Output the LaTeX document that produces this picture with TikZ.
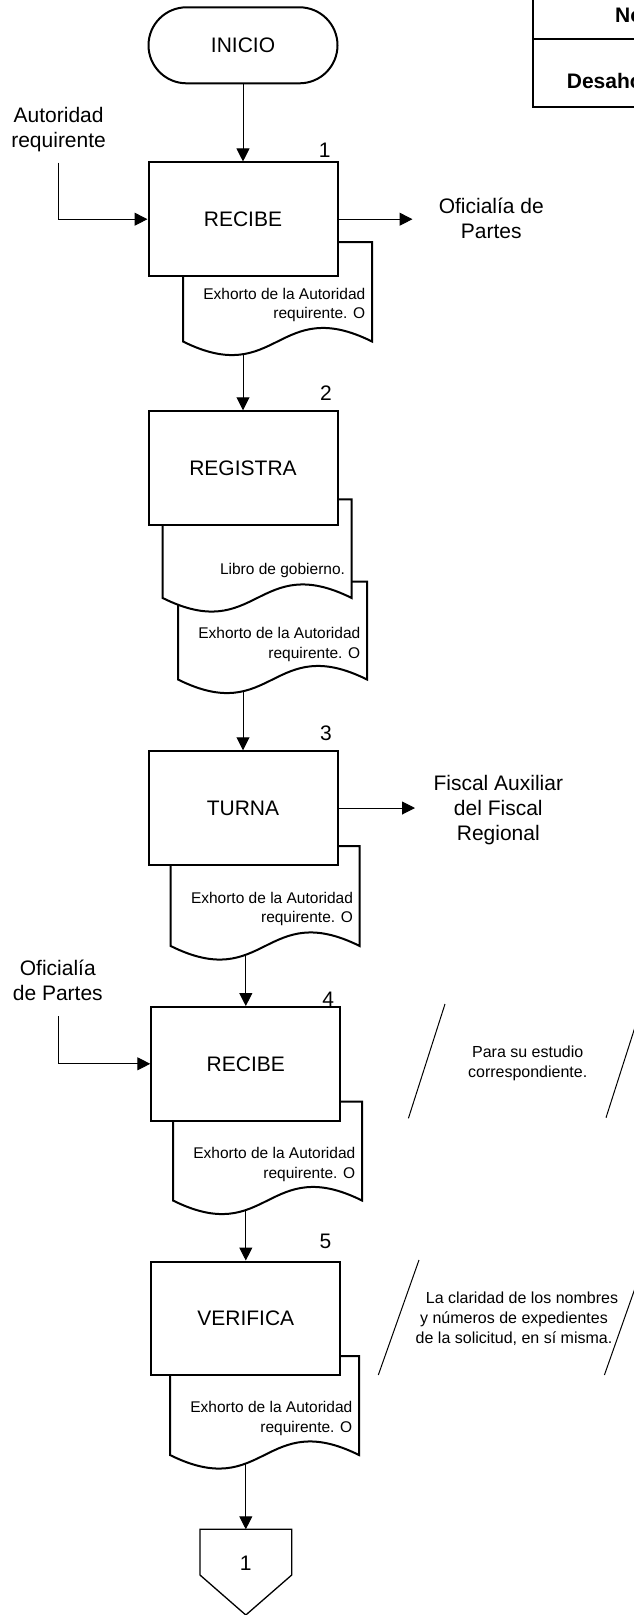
\documentclass[tikz,border=0pt]{standalone}
\usepackage{fontspec}
\setmainfont{Liberation Sans}
\usetikzlibrary{arrows.meta}
\pgfdeclarelayer{back}
\pgfsetlayers{back,main}

% type sizes (1pt = 1 unit of the drawing)
\newcommand{\fbig}{\fontsize{21}{25}\selectfont}
\newcommand{\fdoc}{\fontsize{15.5}{19.5}\selectfont}
\newcommand{\fnote}{\fontsize{16}{20.2}\selectfont}

% document symbol: left edge, top edge, bottom of the straight sides
\newcommand{\docsheet}[3]{%
  \draw[shapeline] (#1,#2) -- ({#1+189},#2) -- ({#1+189},#3)
    .. controls ({#1+94.5},{#3-47}) and ({#1+94.5},{#3+47}) .. (#1,#3) -- cycle;}

\tikzset{
  shapeline/.style={line width=2pt, draw=black, fill=white},
  procbox/.style={shapeline, rectangle, minimum width=189pt, minimum height=113.5pt,
                  inner sep=0pt, font=\fbig},
  termbox/.style={shapeline, rectangle, rounded corners=38pt, minimum width=189pt,
                  minimum height=76pt, inner sep=0pt, font=\fbig},
  doctext/.style={anchor=east, align=right, inner sep=0pt, font=\fdoc},
  ext/.style={align=center, inner sep=0pt, font=\fbig},
  stepnum/.style={inner sep=0pt, font=\fbig},
  note/.style={align=center, inner sep=0pt, font=\fnote},
  flow/.style={line width=1pt, draw=black, -{Triangle[length=13pt,width=13pt]}},
  noteline/.style={line width=1pt, draw=black},
  connline/.style={line width=1.3pt, draw=black, fill=white},
  tableline/.style={line width=2pt, draw=black},
}

\begin{document}
\begin{tikzpicture}[x=1pt, y=-1pt]
\useasboundingbox (0,0) rectangle (634,1615);
\clip (0,0) rectangle (634,1615);

% header table in the upper right corner
\draw[tableline] (660,-5) -| (533.3,107) -- (660,107);
\draw[tableline] (533.3,39) -- (660,39);
\node[anchor=base west, inner sep=0pt, font=\fbig\bfseries] (tabhead) at (615,22.5) {Nombre del procedimiento};
\node[anchor=base west, inner sep=0pt, font=\fbig\bfseries] (tabname) at (566.7,88.2) {Desahogo de exhortos};

% documents (drawn first, the process boxes overlap them)
\docsheet{183}{242}{341.5}
\docsheet{178}{581.7}{679.5}
\docsheet{162.7}{499.3}{598}
\docsheet{170.7}{846}{946}
\docsheet{173}{1101.7}{1200.5}
\docsheet{170}{1356}{1455}

\node[doctext] (t1)  at (365.5,304.8)  {Exhorto de la Autoridad\\requirente. O};
\node[doctext] (t2a) at (345.2,570.8)  {Libro de gobierno.};
\node[doctext] (t2b) at (360.5,644.5)  {Exhorto de la Autoridad\\requirente. O};
\node[doctext] (t3)  at (353.2,908.8)  {Exhorto de la Autoridad\\requirente. O};
\node[doctext] (t4)  at (355.5,1164.3) {Exhorto de la Autoridad\\requirente. O};
\node[doctext] (t5)  at (352.5,1418.6) {Exhorto de la Autoridad\\requirente. O};

% start terminator and process steps
\node[termbox] (start) at (243,45.3) {INICIO};
\node[procbox] (box1) at (243,219.2)   {RECIBE};
\node[procbox] (box2) at (243,468)     {REGISTRA};
\node[procbox] (box3) at (243,808)     {TURNA};
\node[procbox] (box4) at (245.8,1063.8){RECIBE};
\node[procbox] (box5) at (245.8,1318.3){VERIFICA};

% step numbers
\node[stepnum] (n1) at (324.7,150)    {1};
\node[stepnum] (n2) at (326,393.3)    {2};
\node[stepnum] (n3) at (326,733.3)    {3};
\node[stepnum] (n4) at (328.3,999.3)  {4};
\node[stepnum] (n5) at (325.5,1241.7) {5};

% senders and receivers
\node[ext] (src1) at (58.6,129.4)  {Autoridad\\requirente};
\node[ext] (dst1) at (491.3,218.5) {Oficialía de\\Partes};
\node[ext] (dst3) at (498.3,810.5) {Fiscal Auxiliar\\del Fiscal\\Regional};
\node[ext] (src4) at (57.8,980.8)  {Oficialía\\de Partes};

% annotations
\draw[noteline] (445,1004) -- (408.4,1118.3);
\draw[noteline] (642.4,1004) -- (606,1117.7);
\node[note] (note4) at (527.7,1063.4) {Para su estudio\\correspondiente.};
\draw[noteline] (419,1260) -- (378.3,1375);
\draw[noteline] (645,1260) -- (604.4,1375);
\node[note] (note5) at (514,1319)
  {\hspace*{16pt}La claridad de los nombres\\y números de expedientes\hspace*{10pt}\\de la solicitud, en sí misma.};

% off-page connector
\draw[connline] (200,1529.3) -- (291.7,1529.3) -- (291.7,1575) -- (245.8,1615) -- (200,1575) -- cycle;
\coordinate (conn) at (245.8,1529.3);
\node[stepnum] (connlabel) at (245.8,1563) {1};

% loose ends of the connectors
\coordinate (in1) at (58.6,162.7);
\coordinate (in4) at (58.6,1016);
\coordinate (out1) at (412.5,219);
\coordinate (out3) at (415,808);
\coordinate (d1) at (243,341.5);
\coordinate (d2) at (243,679.5);
\coordinate (d3) at (245.8,946);
\coordinate (d4) at (245.8,1200.5);
\coordinate (d5) at (245.8,1455);

% connectors, behind the shapes
\begin{pgfonlayer}{back}
\draw[flow] (start.south) -- (box1.north);
\draw[flow] (in1) |- (box1.west);
\draw[flow] (box1.east) -- (box1.east -| out1);
\draw[flow] (box2.north |- d1) -- (box2.north);
\draw[flow] (box3.north |- d2) -- (box3.north);
\draw[flow] (box3.east) -- (box3.east -| out3);
\draw[flow] (box4.north |- d3) -- (box4.north);
\draw[flow] (in4) |- (box4.west);
\draw[flow] (box5.north |- d4) -- (box5.north);
\draw[flow] (conn |- d5) -- (conn);
\end{pgfonlayer}
\end{tikzpicture}
\end{document}
